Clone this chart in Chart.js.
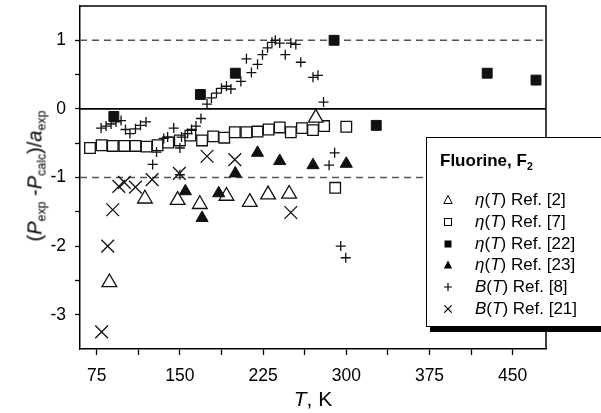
<!DOCTYPE html>
<html>
<head>
<meta charset="utf-8">
<script src="https://cdn.jsdelivr.net/npm/chart.js@4.4.1/dist/chart.umd.min.js"></script>
<style>
    body { margin: 0; background: #fff; overflow: hidden; }
    #wrap { position: relative; width: 601px; height: 413px; overflow: hidden; font-family: 'Liberation Sans', Arial, sans-serif; color: #000; }
    #chart { position: absolute; left: 0; top: 0; }
    #ytitle { position: absolute; left: 35px; top: 176px; transform: translate(-50%, -50%) rotate(-90deg); font-size: 20px; white-space: nowrap; }
    #xtitle { position: absolute; left: 313px; top: 399px; transform: translate(-50%, -50%); font-size: 21px; white-space: nowrap; }
    sub.s { font-size: 0.62em; vertical-align: -0.35em; line-height: 0; }
    #legend { position: absolute; left: 426px; top: 137px; width: 200px; height: 190px; box-sizing: border-box; border: 1.5px solid #000; background: #fff; box-shadow: 4px 5px 0 #000; }
    .lg { position: absolute; font-size: 17px; white-space: nowrap; transform: translateY(-50%); }
    .lg-title { font-weight: bold; }
    .sym { position: absolute; transform: translate(-50%, -50%); }
</style>
</head>
<body>
<div id="wrap">
    <canvas id="chart" width="601" height="413"></canvas>
    <div id="ytitle">(<i>P</i><sub class="s">exp</sub> -<i>P</i><sub class="s">calc</sub>)/<i>a</i><sub class="s">exp</sub></div>
    <div id="xtitle"><i>T</i>, K</div>
    <div id="legend"></div>
    <div id="legendItems"></div>
</div>
<script>
// viscosity, Ref. [2] (open triangles)
const ref2T = [86.5, 118.5, 148, 168, 192, 213, 229.5, 248.5, 272.5];
const ref2Dev = [-2.53, -1.31, -1.33, -1.39, -1.27, -1.36, -1.25, -1.24, -0.13];

// viscosity, Ref. [7] (open squares)
const ref7T = [69, 79.5, 89.5, 100, 110, 120, 130, 139.5, 150, 159.5, 170, 180, 190, 199.5, 210, 220, 230, 240, 250, 260, 270, 280, 290, 300];
const ref7Dev = [-0.57, -0.53, -0.54, -0.54, -0.54, -0.55, -0.53, -0.49, -0.46, -0.39, -0.46, -0.40, -0.42, -0.34, -0.34, -0.33, -0.30, -0.27, -0.34, -0.28, -0.31, -0.25, -1.15, -0.26];

// viscosity, Ref. [22] (filled squares)
const ref22T = [90.5, 168.5, 200, 289, 327, 427, 471];
const ref22Dev = [-0.11, 0.21, 0.52, 1.0, -0.24, 0.52, 0.42];

// viscosity, Ref. [23] (filled triangles)
const ref23T = [155, 170, 185, 200, 220, 240, 270, 300];
const ref23Dev = [-1.20, -1.59, -1.23, -0.94, -0.64, -0.76, -0.82, -0.80];

// second virial coefficient, Ref. [8] (plus)
const ref8T = [79, 83.5, 88, 92.5, 97, 101, 105, 110, 114.5, 119.5, 125.5, 129, 135.5, 139, 144.5, 150, 150, 151.5, 157, 160.5,
    164.5, 169, 174.5, 178.5, 183, 187.5, 192, 196, 205, 210, 214.5, 220, 224.5, 229, 233, 236, 240, 245, 250, 254.5,
    259, 270, 274.5, 279.5, 284.5, 289.5, 295, 299.5];
const ref8Dev = [-0.28, -0.25, -0.22, -0.19, -0.17, -0.30, -0.36, -0.29, -0.24, -0.19, -0.81, -0.63, -0.43, -0.41, -0.28, -0.57, -0.96, -0.41, -0.36, -0.30,
    -0.25, -0.14, 0.07, 0.16, 0.23, 0.30, 0.33, 0.29, 0.40, 0.73, 0.53, 0.65, 0.79, 0.89, 0.97, 1.0, 0.96, 0.79, 0.96, 0.94,
    0.68, 0.46, 0.49, 0.10, -0.82, -0.64, -2.0, -2.17];

// second virial coefficient, Ref. [21] (diagonal cross)
const ref21T = [79.5, 85, 89.5, 95, 100, 110, 125, 149.5, 174.5, 199.5, 250];
const ref21Dev = [-3.25, -2.0, -1.47, -1.13, -1.07, -1.14, -1.03, -0.94, -0.69, -0.74, -1.51];

// axes
const xRange = [60, 480];
const yRange = [-3.5, 1.5];
const xTicks = [75, 112.5, 150, 187.5, 225, 262.5, 300, 337.5, 375, 412.5, 450];
const xLabels = [75, 150, 225, 300, 375, 450];
const yTicks = [-3, -2.5, -2, -1.5, -1, -0.5, 0, 0.5, 1];
const yLabels = [-3, -2, -1, 0, 1];
const dashedLevels = [1, -1];

const legendTitle = 'Fluorine, F';
const legendLabels = [
    ['η', 'Ref. [2]'], ['η', 'Ref. [7]'], ['η', 'Ref. [22]'],
    ['η', 'Ref. [23]'], ['B', 'Ref. [8]'], ['B', 'Ref. [21]']
];

const FONT = "'Liberation Sans', Arial, sans-serif";

function pts(xs, ys) {
    return xs.map((x, i) => ({ x: x, y: ys[i] }));
}

function markers(data, style, radius, fill, width) {
    return {
        type: 'scatter', data: data, pointStyle: style, pointRadius: radius,
        pointBackgroundColor: fill, pointBorderColor: '#111', pointBorderWidth: width, showLine: false
    };
}

// frame on top and right sides of plot
const framePlugin = {
    id: 'frame',
    afterDatasetsDraw(chart) {
        const a = chart.chartArea, ctx = chart.ctx;
        ctx.save();
        ctx.strokeStyle = '#000';
        ctx.lineWidth = 1.5;
        ctx.beginPath();
        ctx.moveTo(a.left, a.top);
        ctx.lineTo(a.right, a.top);
        ctx.lineTo(a.right, a.bottom);
        ctx.stroke();
        ctx.restore();
    }
};

const datasets = [
    markers(pts(ref8T, ref8Dev), 'cross', 5, '#111', 1.3),
    markers(pts(ref21T, ref21Dev), 'crossRot', 9, '#111', 1.3),
    markers(pts(ref22T, ref22Dev), 'rect', 7, '#111', 1),
    markers(pts(ref23T, ref23Dev), 'triangle', 7, '#111', 1),
    markers(pts(ref2T, ref2Dev), 'triangle', 8.5, '#fff', 1.3),
    markers(pts(ref7T, ref7Dev), 'rect', 7.5, '#fff', 1.3),
    {
        type: 'line', data: pts(xRange, [0, 0]), borderColor: '#000', borderWidth: 1.6,
        pointRadius: 0, order: 10
    }
];
dashedLevels.forEach(v => {
    datasets.push({
        type: 'line', data: pts(xRange, [v, v]), borderColor: '#555', borderWidth: 1.5,
        borderDash: [7, 5], pointRadius: 0, order: 10
    });
});

new Chart(document.getElementById('chart'), {
    type: 'scatter',
    data: { datasets: datasets },
    options: {
        responsive: false,
        animation: false,
        layout: { autoPadding: false, padding: { left: 0, right: 55, top: 6, bottom: 0 } },
        plugins: { legend: { display: false }, tooltip: { enabled: false } },
        scales: {
            x: {
                type: 'linear', min: xRange[0], max: xRange[1],
                afterBuildTicks: s => { s.ticks = xTicks.map(v => ({ value: v })); },
                afterFit: s => { s.height = 64; s.paddingLeft = 0; s.paddingRight = 0; },
                ticks: {
                    autoSkip: false, maxRotation: 0, padding: 11, color: '#000',
                    font: { family: FONT, size: 17.5 },
                    callback: v => xLabels.includes(v) ? String(v) : ''
                },
                grid: { drawOnChartArea: false, tickLength: 6, tickColor: '#000', tickWidth: 1.3 },
                border: { color: '#000', width: 1.5 }
            },
            y: {
                type: 'linear', min: yRange[0], max: yRange[1],
                afterBuildTicks: s => { s.ticks = yTicks.map(v => ({ value: v })); },
                afterFit: s => { s.width = 80; s.paddingTop = 0; s.paddingBottom = 0; },
                ticks: {
                    autoSkip: false, padding: 9, color: '#000',
                    font: { family: FONT, size: 17.5 },
                    callback: v => yLabels.includes(v) ? String(v) : ''
                },
                grid: { drawOnChartArea: false, tickLength: 5, tickColor: '#000', tickWidth: 1.3 },
                border: { color: '#000', width: 1.5 }
            }
        }
    },
    plugins: [framePlugin]
});

// legend: symbols drawn as small svg, labels as text
const symbolSvg = [
    '<polygon points="6,1.5 10.2,9.5 1.8,9.5" fill="none" stroke="#000" stroke-width="1"/>',
    '<rect x="2.5" y="2.5" width="7" height="7" fill="none" stroke="#000" stroke-width="1"/>',
    '<rect x="2.5" y="2.5" width="7" height="7" fill="#000"/>',
    '<polygon points="6,1.5 10.2,9.5 1.8,9.5" fill="#000"/>',
    '<path d="M6 2 V10 M2 6 H10" stroke="#000" stroke-width="1.2"/>',
    '<path d="M2.3 2.3 L9.7 9.7 M9.7 2.3 L2.3 9.7" stroke="#000" stroke-width="1.2"/>'
];

const items = document.getElementById('legendItems');
let html = `<div class="lg lg-title" style="left:440px; top:161px;">${legendTitle}<sub class="s">2</sub></div>`;
legendLabels.forEach((lab, i) => {
    const y = 200 + i * 21.8;
    html += `<svg class="sym" width="12" height="12" style="left:448px; top:${y}px;">${symbolSvg[i]}</svg>`;
    html += `<div class="lg" style="left:475px; top:${y}px;"><i>${lab[0]}</i>(<i>T</i>) ${lab[1]}</div>`;
});
items.innerHTML = html;
</script>
</body>
</html>
